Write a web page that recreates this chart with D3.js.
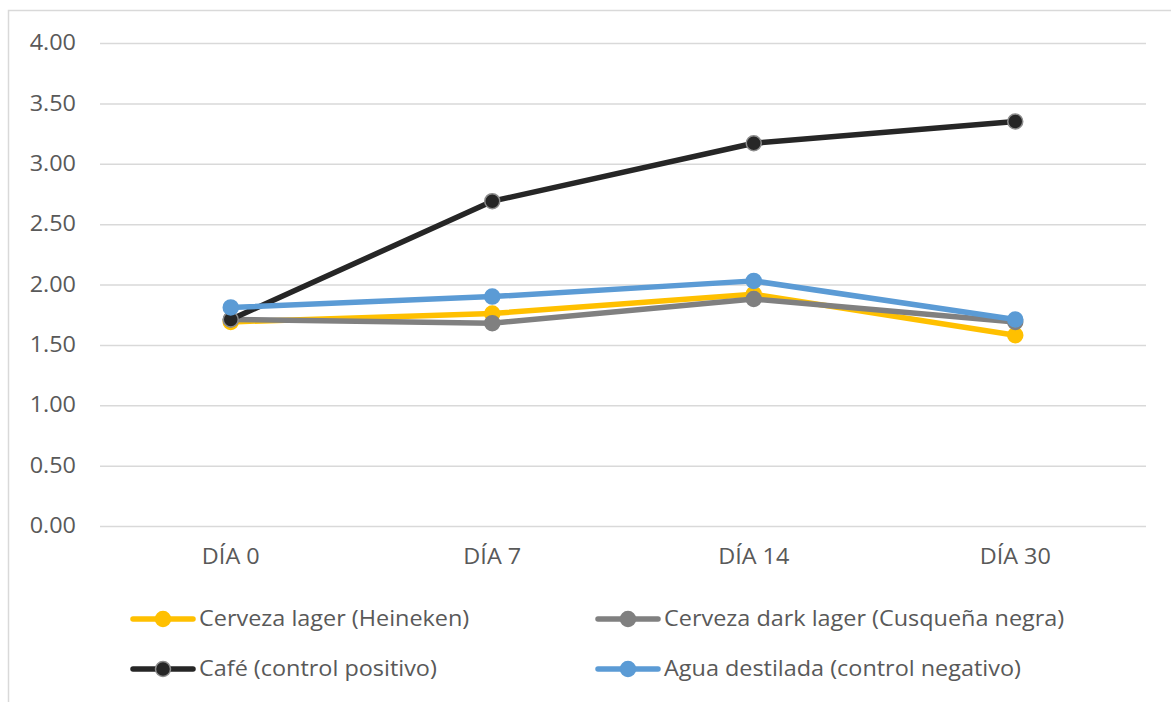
<!DOCTYPE html>
<html>
<head>
<meta charset="utf-8">
<script src="https://cdn.jsdelivr.net/npm/d3@7"></script>
<style>
  html, body { margin: 0; padding: 0; background: #fff; }
  svg text { font-family: "Open Sans", Lato, sans-serif; fill: #595959; }
</style>
</head>
<body>
<svg id="chart" width="1171" height="702"></svg>
<script>
// Sampling days
const categories = ["DÍA 0", "DÍA 7", "DÍA 14", "DÍA 30"];

// Measured values per treatment
const lager     = [1.69, 1.76, 1.92, 1.58];
const darkLager = [1.71, 1.68, 1.88, 1.69];
const cafe      = [1.71, 2.69, 3.17, 3.35];
const agua      = [1.81, 1.90, 2.03, 1.71];

const seriesNames = [
  "Cerveza lager (Heineken)",
  "Cerveza dark lager (Cusqueña negra)",
  "Café (control positivo)",
  "Agua destilada (control negativo)"
];

const yTicks = [0, 0.5, 1, 1.5, 2, 2.5, 3, 3.5, 4];

const series = [
  { name: seriesNames[0], values: lager,     color: "#FFC000", marker: "#FFC000", mstroke: "#FFC000" },
  { name: seriesNames[1], values: darkLager, color: "#808080", marker: "#808080", mstroke: "#808080" },
  { name: seriesNames[2], values: cafe,      color: "#262626", marker: "#262626", mstroke: "#8c8c8c" },
  { name: seriesNames[3], values: agua,      color: "#5B9BD5", marker: "#5B9BD5", mstroke: "#5B9BD5" }
];

const FONT = "'Open Sans', Lato, sans-serif";
const FS = 21;
const WIDEN = 1.115; // the labels are set a little wider than the face's natural width

const svg = d3.select("#chart");

// Outer chart frame
svg.append("rect")
  .attr("x", 8.5).attr("y", 10.5)
  .attr("width", 1200).attr("height", 720)
  .attr("fill", "none").attr("stroke", "#d9d9d9").attr("stroke-width", 1.5);

const plot = { left: 100, right: 1146, top: 43, bottom: 526 };

const x = d3.scaleBand().domain(categories).range([plot.left, plot.right]);
const y = d3.scaleLinear().domain([0, 4]).range([plot.bottom, plot.top]);

// Horizontal gridlines and y labels
const yAxis = d3.axisLeft(y).tickValues(yTicks).tickFormat(d3.format(".2f"))
  .tickSize(-(plot.right - plot.left)).tickPadding(24);
const gy = svg.append("g").attr("transform", `translate(${plot.left},0)`).call(yAxis);
gy.select(".domain").remove();
gy.selectAll(".tick line").attr("stroke", "#d9d9d9").attr("stroke-width", 1.5);
gy.selectAll(".tick text").attr("font-size", FS).style("fill", "#595959")
  .attr("font-family", FONT);

// Category labels
const xAxis = d3.axisBottom(x).tickSize(0).tickPadding(23);
const gx = svg.append("g").attr("transform", `translate(0,${plot.bottom})`).call(xAxis);
gx.select(".domain").remove();
gx.selectAll(".tick text").attr("font-size", FS).style("fill", "#595959")
  .attr("font-family", FONT);

const cx = d => x(d) + x.bandwidth() / 2;
const line = d3.line().x((d, i) => cx(categories[i])).y(d => y(d));

series.forEach(s => {
  const g = svg.append("g");
  g.append("path").datum(s.values)
    .attr("d", line)
    .attr("fill", "none")
    .attr("stroke", s.color)
    .attr("stroke-width", 5.5)
    .attr("stroke-linejoin", "round");
  g.selectAll("circle").data(s.values).join("circle")
    .attr("cx", (d, i) => cx(categories[i]))
    .attr("cy", d => y(d))
    .attr("r", 7.5)
    .attr("fill", s.marker)
    .attr("stroke", s.mstroke)
    .attr("stroke-width", 1.5);
});

// Legend
const legendPos = [
  { lx: 133, ly: 619 },
  { lx: 598, ly: 619 },
  { lx: 133, ly: 669 },
  { lx: 598, ly: 669 }
];
series.forEach((s, i) => {
  const p = legendPos[i];
  const g = svg.append("g").attr("transform", `translate(${p.lx},${p.ly})`);
  g.append("line").attr("x1", 0).attr("x2", 60).attr("y1", 0).attr("y2", 0)
    .attr("stroke", s.color).attr("stroke-width", 5.5).attr("stroke-linecap", "round");
  g.append("circle").attr("cx", 30).attr("cy", 0).attr("r", 7.5)
    .attr("fill", s.marker).attr("stroke", s.mstroke).attr("stroke-width", 1.5);
  g.append("text").attr("x", 66).attr("y", 0).attr("dy", "0.35em")
    .attr("font-size", FS).attr("font-family", FONT).text(s.name);
});

// Widen every label slightly
svg.selectAll("text").each(function () {
  const w = this.getComputedTextLength();
  d3.select(this).attr("textLength", w * WIDEN).attr("lengthAdjust", "spacingAndGlyphs");
});
</script>
</body>
</html>
